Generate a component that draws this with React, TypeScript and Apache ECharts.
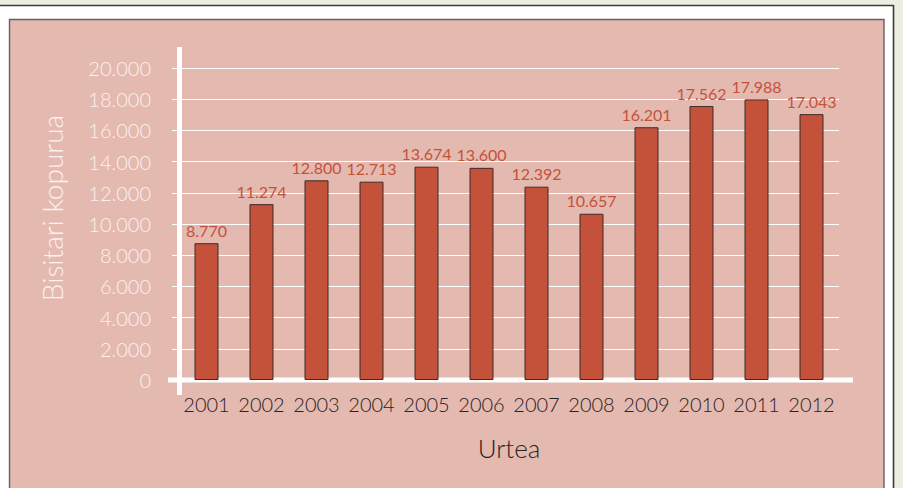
import React, { useEffect, useRef } from "react";
import * as echarts from "echarts";

const years = ["2001", "2002", "2003", "2004", "2005", "2006", "2007", "2008", "2009", "2010", "2011", "2012"];
const visitors = [8770, 11274, 12800, 12713, 13674, 13600, 12392, 10657, 16201, 17562, 17988, 17043];
const yTicks = { min: 0, max: 20000, interval: 2000 };

const W = 903;
const H = 488;
const GRID = { left: 179, right: 64, top: 68, bottom: 108 };

const fmt = (v: number) => {
  const s = String(Math.round(v));
  return s.replace(/\B(?=(\d{3})+(?!\d))/g, ".");
};

const FONT = "Lato, 'Open Sans', sans-serif";

export default function App() {
  const ref = useRef<HTMLDivElement>(null);
  useEffect(() => {
    if (!ref.current) return;
    const chart = echarts.init(ref.current, undefined, { renderer: "svg" });
    const axisX = GRID.left + 0.5;
    const axisY = H - GRID.bottom;
    chart.setOption({
      animation: false,
      grid: { ...GRID, containLabel: false },
      graphic: [
        { type: "rect", z: -10, shape: { x: 0, y: 0, width: W, height: H }, style: { fill: "#ebeee1" }, silent: true },
        { type: "rect", z: -10, shape: { x: 0, y: 6, width: 893, height: H }, style: { fill: "#ffffff" }, silent: true },
        { type: "line", z: -9, shape: { x1: 0, y1: 5.5, x2: 893.5, y2: 5.5 }, style: { stroke: "#3a3a3a", lineWidth: 1.6 }, silent: true },
        { type: "line", z: -9, shape: { x1: 893.5, y1: 5, x2: 893.5, y2: H }, style: { stroke: "#3a3a3a", lineWidth: 1.6 }, silent: true },
        { type: "rect", z: -8, shape: { x: 9.5, y: 19.5, width: 874.5, height: 480 }, style: { fill: "#e4b9b0", stroke: "#6a6060", lineWidth: 1.4 }, silent: true },
        { type: "line", z: 1, shape: { x1: axisX, y1: 47, x2: axisX, y2: 395 }, style: { stroke: "#ffffff", lineWidth: 5 }, silent: true },
        { type: "line", z: 1, shape: { x1: 168, y1: axisY, x2: 853, y2: axisY }, style: { stroke: "#ffffff", lineWidth: 5 }, silent: true },
        {
          type: "text",
          z: 5,
          x: 52,
          y: 208,
          rotation: Math.PI / 2,
          style: {
            text: "Bisitari kopurua",
            fill: "#fbf1ee",
            font: `300 28px ${FONT}`,
            align: "center",
            verticalAlign: "middle",
          },
        },
      ],
      xAxis: {
        type: "category",
        data: years,
        axisLine: { show: false },
        axisTick: { show: false },
        axisLabel: { color: "#2a2222", fontSize: 20, fontFamily: FONT, fontWeight: 300, margin: 14, interval: 0 },
        name: "Urtea",
        nameLocation: "middle",
        nameGap: 55,
        nameTextStyle: { color: "#2a2222", fontSize: 26, fontFamily: FONT, fontWeight: 300 },
      },
      yAxis: {
        type: "value",
        min: yTicks.min,
        max: yTicks.max,
        interval: yTicks.interval,
        axisLine: { show: false },
        axisTick: { show: true, length: 7, lineStyle: { color: "#ffffff", width: 1 } },
        splitLine: { show: true, lineStyle: { color: "#ffffff", width: 1 } },
        axisLabel: {
          color: "#fbf1ee",
          fontSize: 20,
          fontFamily: FONT,
          fontWeight: 300,
          margin: 28,
          formatter: (v: number) => fmt(v),
        },
      },
      series: [
        {
          type: "bar",
          data: visitors,
          barWidth: 24,
          itemStyle: { color: "#c4523b", borderColor: "#3d2b28", borderWidth: 1 },
          label: {
            show: true,
            position: "top",
            distance: 5,
            color: "#c4523b",
            fontSize: 16,
            fontFamily: FONT,
            formatter: (p: any) => fmt(p.value),
          },
        },
      ],
    });
    return () => chart.dispose();
  }, []);
  return <div ref={ref} style={{ width: W, height: H, position: "absolute", left: 0, top: 0 }} />;
}
